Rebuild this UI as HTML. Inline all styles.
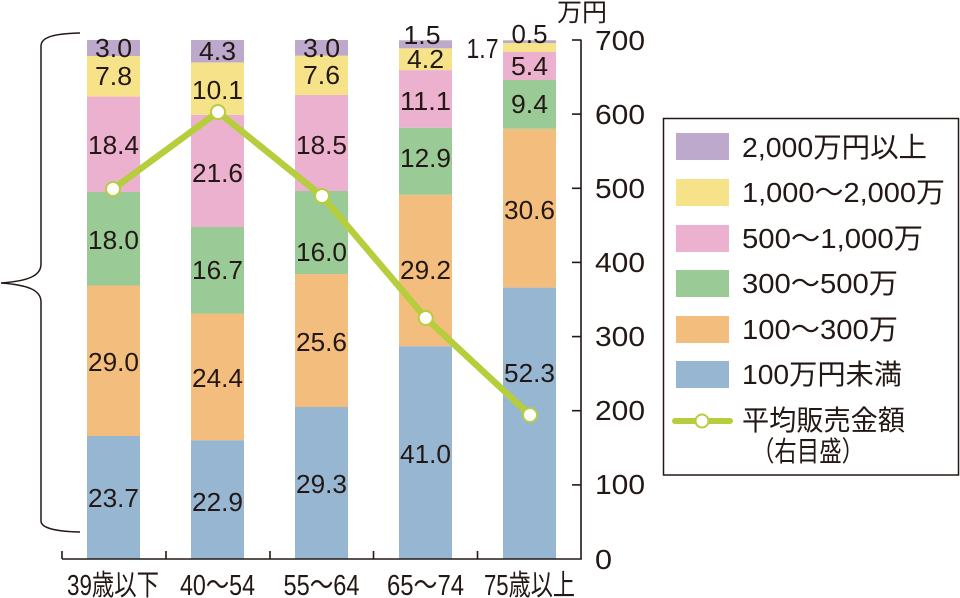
<!DOCTYPE html>
<html><head><meta charset="utf-8"><style>
html,body{margin:0;padding:0;background:#fff;}
svg{display:block;}
text{font-family:"Liberation Sans","Noto Sans CJK JP",sans-serif;fill:#231815;}
</style></head><body>
<svg width="960" height="598" viewBox="0 0 960 598" xmlns="http://www.w3.org/2000/svg">
<!-- bars -->
<g>
<rect x="87" y="436" width="53" height="123" fill="#97b6d2"/>
<rect x="87" y="285.5" width="53" height="150.5" fill="#f3be7d"/>
<rect x="87" y="192" width="53" height="93.5" fill="#9acb97"/>
<rect x="87" y="96.6" width="53" height="95.4" fill="#ebb1cf"/>
<rect x="87" y="56" width="53" height="40.6" fill="#f6e288"/>
<rect x="87" y="40" width="53" height="16" fill="#bca9cc"/>

<rect x="191" y="440.2" width="53" height="118.8" fill="#97b6d2"/>
<rect x="191" y="313.6" width="53" height="126.6" fill="#f3be7d"/>
<rect x="191" y="227" width="53" height="86.6" fill="#9acb97"/>
<rect x="191" y="114.8" width="53" height="112.2" fill="#ebb1cf"/>
<rect x="191" y="62.4" width="53" height="52.4" fill="#f6e288"/>
<rect x="191" y="40" width="53" height="22.4" fill="#bca9cc"/>

<rect x="295" y="407" width="53" height="152" fill="#97b6d2"/>
<rect x="295" y="274" width="53" height="133" fill="#f3be7d"/>
<rect x="295" y="191" width="53" height="83" fill="#9acb97"/>
<rect x="295" y="95" width="53" height="96" fill="#ebb1cf"/>
<rect x="295" y="55.6" width="53" height="39.4" fill="#f6e288"/>
<rect x="295" y="40" width="53" height="15.6" fill="#bca9cc"/>

<rect x="399" y="346.2" width="53" height="212.8" fill="#97b6d2"/>
<rect x="399" y="194.7" width="53" height="151.5" fill="#f3be7d"/>
<rect x="399" y="127.7" width="53" height="67" fill="#9acb97"/>
<rect x="399" y="70.1" width="53" height="57.6" fill="#ebb1cf"/>
<rect x="399" y="48.3" width="53" height="21.8" fill="#f6e288"/>
<rect x="399" y="40.3" width="53" height="8" fill="#bca9cc"/>

<rect x="503" y="287.6" width="53" height="271.4" fill="#97b6d2"/>
<rect x="503" y="128.8" width="53" height="158.8" fill="#f3be7d"/>
<rect x="503" y="80" width="53" height="48.8" fill="#9acb97"/>
<rect x="503" y="52" width="53" height="28" fill="#ebb1cf"/>
<rect x="503" y="43" width="53" height="9" fill="#f6e288"/>
<rect x="503" y="40.3" width="53" height="2.7" fill="#bca9cc"/>
</g>

<!-- bar labels -->
<g font-size="26" text-anchor="middle">
<text x="113.5" y="507" textLength="51" lengthAdjust="spacingAndGlyphs">23.7</text>
<text x="113.5" y="371" textLength="51" lengthAdjust="spacingAndGlyphs">29.0</text>
<text x="113.5" y="249" textLength="51" lengthAdjust="spacingAndGlyphs">18.0</text>
<text x="113.5" y="154" textLength="51" lengthAdjust="spacingAndGlyphs">18.4</text>
<text x="113.5" y="85" textLength="37" lengthAdjust="spacingAndGlyphs">7.8</text>
<text x="113.5" y="57" textLength="37" lengthAdjust="spacingAndGlyphs">3.0</text>

<text x="217.5" y="511" textLength="51" lengthAdjust="spacingAndGlyphs">22.9</text>
<text x="217.5" y="387" textLength="51" lengthAdjust="spacingAndGlyphs">24.4</text>
<text x="217.5" y="279" textLength="51" lengthAdjust="spacingAndGlyphs">16.7</text>
<text x="217.5" y="182" textLength="51" lengthAdjust="spacingAndGlyphs">21.6</text>
<text x="217.5" y="99" textLength="51" lengthAdjust="spacingAndGlyphs">10.1</text>
<text x="217.5" y="60" textLength="37" lengthAdjust="spacingAndGlyphs">4.3</text>

<text x="321.5" y="493" textLength="51" lengthAdjust="spacingAndGlyphs">29.3</text>
<text x="321.5" y="351" textLength="51" lengthAdjust="spacingAndGlyphs">25.6</text>
<text x="321.5" y="261" textLength="51" lengthAdjust="spacingAndGlyphs">16.0</text>
<text x="321.5" y="154" textLength="51" lengthAdjust="spacingAndGlyphs">18.5</text>
<text x="321.5" y="84" textLength="37" lengthAdjust="spacingAndGlyphs">7.6</text>
<text x="321.5" y="57" textLength="37" lengthAdjust="spacingAndGlyphs">3.0</text>

<text x="425.5" y="463" textLength="51" lengthAdjust="spacingAndGlyphs">41.0</text>
<text x="425.5" y="279" textLength="51" lengthAdjust="spacingAndGlyphs">29.2</text>
<text x="425.5" y="167" textLength="51" lengthAdjust="spacingAndGlyphs">12.9</text>
<text x="425.5" y="110" textLength="51" lengthAdjust="spacingAndGlyphs">11.1</text>
<text x="425.5" y="68" textLength="37" lengthAdjust="spacingAndGlyphs">4.2</text>
<text x="422" y="44" textLength="37" lengthAdjust="spacingAndGlyphs">1.5</text>

<text x="529.5" y="382" textLength="51" lengthAdjust="spacingAndGlyphs">52.3</text>
<text x="529.5" y="219" textLength="51" lengthAdjust="spacingAndGlyphs">30.6</text>
<text x="529.5" y="113" textLength="37" lengthAdjust="spacingAndGlyphs">9.4</text>
<text x="529.5" y="75" textLength="37" lengthAdjust="spacingAndGlyphs">5.4</text>
<text x="529.5" y="43" textLength="36" lengthAdjust="spacingAndGlyphs">0.5</text>
<text x="482.5" y="58" font-size="28" textLength="32" lengthAdjust="spacingAndGlyphs">1.7</text>
</g>

<!-- line series -->
<polyline points="113,189 218,112 322,196 425.7,318 530,415" fill="none" stroke="#b6cd3c" stroke-width="6.5" stroke-linejoin="round"/>
<g fill="#fff" stroke="#b6cd3c" stroke-width="2">
<circle cx="113" cy="189" r="7"/>
<circle cx="218" cy="112" r="7"/>
<circle cx="322" cy="196" r="7"/>
<circle cx="425.7" cy="318" r="7"/>
<circle cx="530" cy="415" r="7"/>
</g>

<!-- axes -->
<g stroke="#231815" stroke-width="1.6" fill="none">
<line x1="581" y1="39.5" x2="581" y2="559.5"/>
<line x1="62" y1="559" x2="581.8" y2="559"/>
<line x1="572" y1="40" x2="581" y2="40"/>
<line x1="572" y1="114.1" x2="581" y2="114.1"/>
<line x1="572" y1="188.3" x2="581" y2="188.3"/>
<line x1="572" y1="262.4" x2="581" y2="262.4"/>
<line x1="572" y1="336.6" x2="581" y2="336.6"/>
<line x1="572" y1="410.7" x2="581" y2="410.7"/>
<line x1="572" y1="484.9" x2="581" y2="484.9"/>
<line x1="62" y1="551" x2="62" y2="559"/>
<line x1="166" y1="551" x2="166" y2="559"/>
<line x1="270" y1="551" x2="270" y2="559"/>
<line x1="373.5" y1="551" x2="373.5" y2="559"/>
<line x1="477.5" y1="551" x2="477.5" y2="559"/>
</g>

<!-- y tick labels -->
<g font-size="28">
<text x="595" y="50" textLength="50" lengthAdjust="spacingAndGlyphs">700</text>
<text x="595" y="124" textLength="50" lengthAdjust="spacingAndGlyphs">600</text>
<text x="595" y="198" textLength="50" lengthAdjust="spacingAndGlyphs">500</text>
<text x="595" y="272" textLength="50" lengthAdjust="spacingAndGlyphs">400</text>
<text x="595" y="346" textLength="50" lengthAdjust="spacingAndGlyphs">300</text>
<text x="595" y="420" textLength="50" lengthAdjust="spacingAndGlyphs">200</text>
<text x="595" y="494" textLength="50" lengthAdjust="spacingAndGlyphs">100</text>
<text x="595" y="569" textLength="17" lengthAdjust="spacingAndGlyphs">0</text>
</g>
<text x="557" y="21" font-size="25" textLength="50" lengthAdjust="spacingAndGlyphs">万円</text>

<!-- x labels -->
<g font-size="29" text-anchor="middle">
<text x="113" y="595" textLength="92" lengthAdjust="spacingAndGlyphs">39歳以下</text>
<text x="217.5" y="595" textLength="75" lengthAdjust="spacingAndGlyphs">40～54</text>
<text x="321.5" y="595" textLength="76" lengthAdjust="spacingAndGlyphs">55～64</text>
<text x="425.5" y="595" textLength="77" lengthAdjust="spacingAndGlyphs">65～74</text>
<text x="529.5" y="595" textLength="91" lengthAdjust="spacingAndGlyphs">75歳以上</text>
</g>

<!-- bracket -->
<path d="M80,33 C58,33.5 41,36 41,46 L41,264 C41,276 28,281 1,283 C28,285 41,290 41,302 L41,521 C41,528 56,531.5 80,532" fill="none" stroke="#231815" stroke-width="1.5"/>

<!-- legend -->
<rect x="663.5" y="118.5" width="295" height="356.5" fill="#fff" stroke="#231815" stroke-width="1.5"/>
<rect x="676" y="133" width="53" height="27" fill="#bca9cc"/>
<rect x="676" y="179" width="53" height="27" fill="#f6e288"/>
<rect x="676" y="225" width="53" height="27" fill="#ebb1cf"/>
<rect x="676" y="270" width="53" height="27" fill="#9acb97"/>
<rect x="676" y="316" width="53" height="27" fill="#f3be7d"/>
<rect x="676" y="361" width="53" height="27" fill="#97b6d2"/>
<line x1="675" y1="421" x2="730" y2="421" stroke="#b6cd3c" stroke-width="6" stroke-linecap="round"/>
<circle cx="702" cy="421" r="6.5" fill="#fff" stroke="#b6cd3c" stroke-width="2"/>
<g font-size="28">
<text x="742" y="157" textLength="185" lengthAdjust="spacingAndGlyphs">2,000万円以上</text>
<text x="742" y="202" textLength="203" lengthAdjust="spacingAndGlyphs">1,000～2,000万</text>
<text x="742" y="248" textLength="181" lengthAdjust="spacingAndGlyphs">500～1,000万</text>
<text x="742" y="293" textLength="156" lengthAdjust="spacingAndGlyphs">300～500万</text>
<text x="742" y="339" textLength="156" lengthAdjust="spacingAndGlyphs">100～300万</text>
<text x="742" y="384" textLength="160" lengthAdjust="spacingAndGlyphs">100万円未満</text>
<text x="742" y="430" textLength="163" lengthAdjust="spacingAndGlyphs">平均販売金額</text>
<text x="752" y="461" textLength="112" lengthAdjust="spacingAndGlyphs">（右目盛）</text>
</g>
</svg>
</body></html>
